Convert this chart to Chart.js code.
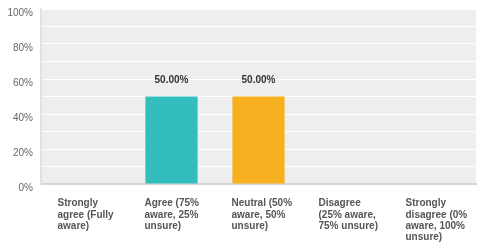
<!DOCTYPE html>
<html>
<head>
<meta charset="utf-8">
<script src="https://cdn.jsdelivr.net/npm/chart.js@4/dist/chart.umd.min.js"></script>
<style>
  html, body { margin: 0; padding: 0; background: #fff; }
  #wrap { width: 477px; height: 251px; }
</style>
</head>
<body>
<div id="wrap"><canvas id="chart"></canvas></div>
<script>
const categories = [
  ['Strongly', 'agree (Fully', 'aware)'],
  ['Agree (75%', 'aware, 25%', 'unsure)'],
  ['Neutral (50%', 'aware, 50%', 'unsure)'],
  ['Disagree', '(25% aware,', '75% unsure)'],
  ['Strongly', 'disagree (0%', 'aware, 100%', 'unsure)']
];
const values = [0, 50, 50, 0, 0];
const barColors = ['#33bdbd', '#33bdbd', '#f7b01f', '#33bdbd', '#33bdbd'];
const yTickLabels = ['0%', '20%', '40%', '60%', '80%', '100%'];

// grey plot background
const plotBg = {
  id: 'plotBg',
  beforeDraw(chart) {
    const a = chart.chartArea, ctx = chart.ctx;
    ctx.save();
    ctx.fillStyle = '#eeeeee';
    ctx.fillRect(a.left, a.top, a.right - a.left, a.bottom - a.top);
    ctx.restore();
  }
};

// value labels over bars
const valueLabels = {
  id: 'valueLabels',
  afterDatasetsDraw(chart) {
    const ctx = chart.ctx;
    const meta = chart.getDatasetMeta(0);
    ctx.save();
    ctx.font = 'bold 10px "Liberation Sans", Arial, sans-serif';
    ctx.fillStyle = '#333333';
    ctx.textAlign = 'center';
    ctx.textBaseline = 'middle';
    meta.data.forEach((bar, i) => {
      if (!values[i]) return;
      ctx.fillText(values[i].toFixed(2) + '%', bar.x, bar.y - 16);
    });
    ctx.restore();
  }
};

new Chart(document.getElementById('chart'), {
  type: 'bar',
  data: {
    labels: categories,
    datasets: [{
      data: values,
      backgroundColor: barColors,
      borderWidth: 0,
      categoryPercentage: 1,
      barPercentage: 0.6
    }]
  },
  options: {
    responsive: true,
    maintainAspectRatio: false,
    animation: false,
    layout: { padding: { left: 0, right: 1, top: 9, bottom: 0 } },
    plugins: { legend: { display: false }, tooltip: { enabled: false } },
    scales: {
      x: {
        grid: { display: false, drawTicks: false, tickLength: 0 },
        border: { display: true, color: '#d6d6d6', width: 2 },
        afterFit(scale) {
          scale.height = 67;
          scale.paddingLeft = 0;
          scale.paddingRight = 0;
        },
        ticks: {
          autoSkip: false,
          maxRotation: 0,
          align: 'start',
          labelOffset: -27,
          padding: 14,
          color: '#555555',
          font: { family: '"Liberation Sans", Arial, sans-serif', size: 10, weight: 'bold', lineHeight: 1.13 }
        }
      },
      y: {
        min: 0,
        max: 100,
        grid: { color: '#ffffff', lineWidth: 1, drawTicks: false, tickLength: 0 },
        border: { display: true, color: '#e2e2e2', width: 2 },
        afterFit(scale) {
          scale.width = 41;
          scale.paddingTop = 0;
          scale.paddingBottom = 0;
        },
        ticks: {
          stepSize: 10,
          padding: 8,
          labelOffset: 4,
          color: '#666666',
          font: { family: '"Liberation Sans", Arial, sans-serif', size: 10 },
          callback: v => (v % 20 === 0 ? yTickLabels[v / 20] : '')
        }
      }
    }
  },
  plugins: [plotBg, valueLabels]
});
</script>
</body>
</html>
